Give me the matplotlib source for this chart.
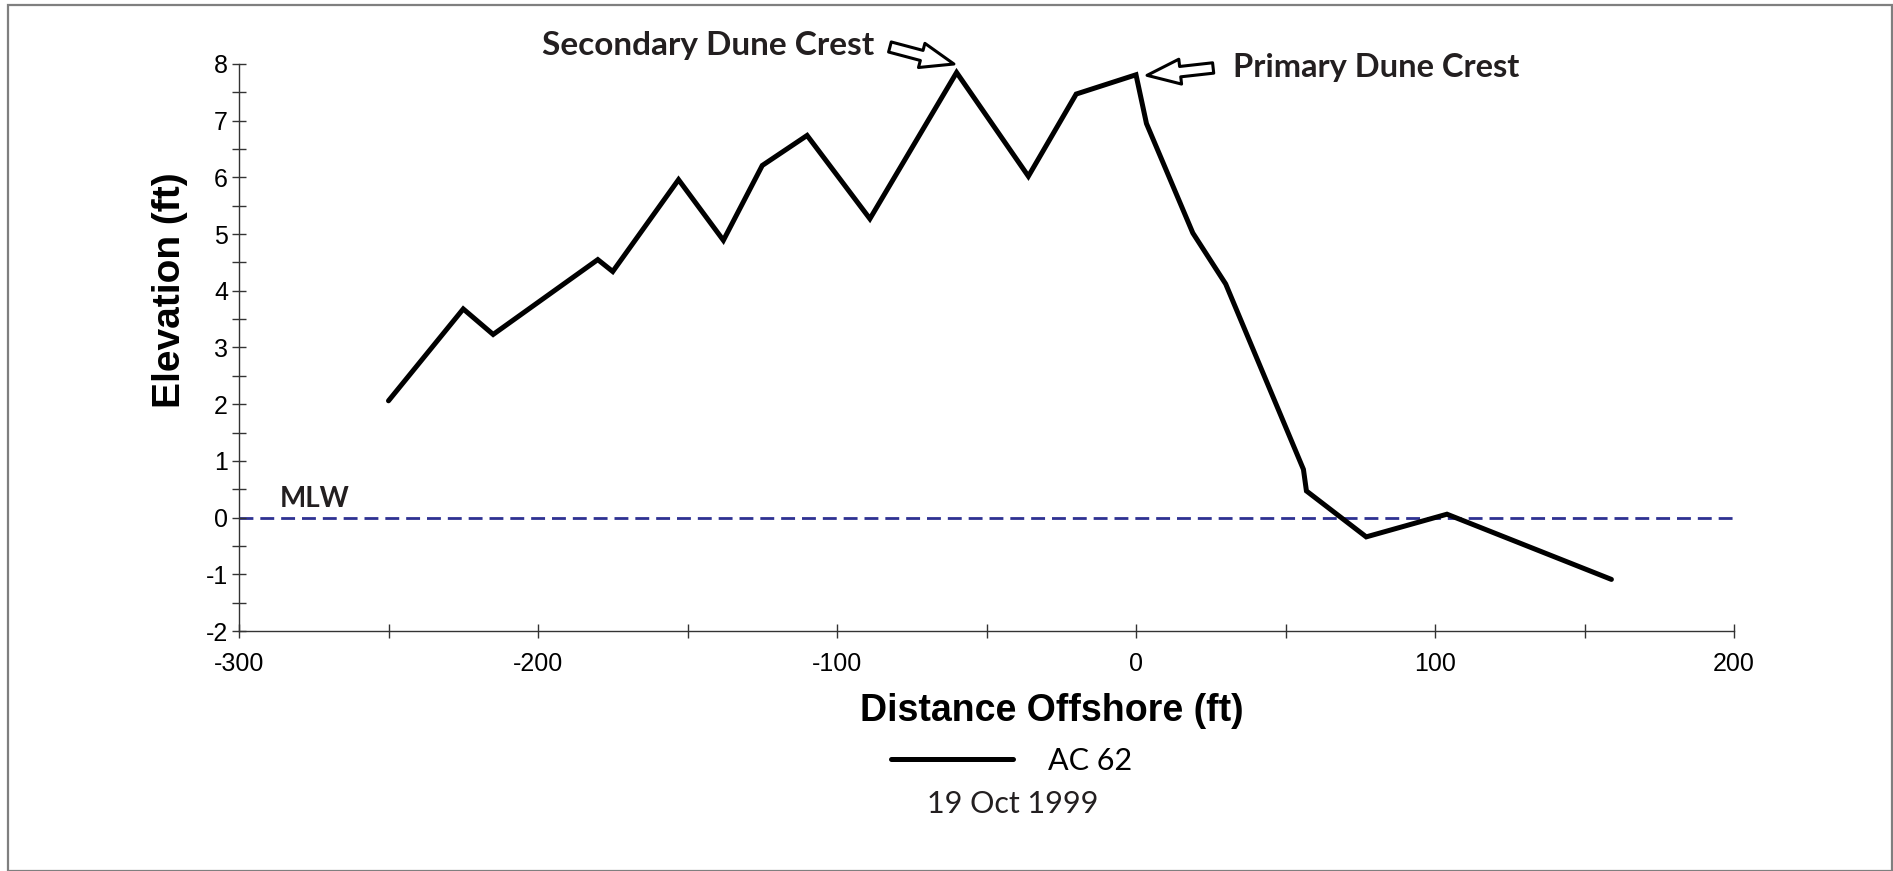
import matplotlib
matplotlib.use('Agg')
import matplotlib.pyplot as plt
from matplotlib.patches import Rectangle
from matplotlib.ticker import MultipleLocator

# beach profile AC 62 (distance offshore vs elevation, ft)
dist = [-250, -225, -215, -180, -175, -153, -138, -125, -110, -89, -60, -36,
        -20, 0, 3.5, 19, 30, 42, 56, 57, 77, 104, 159]
elev = [2.06, 3.68, 3.23, 4.55, 4.34, 5.96, 4.89, 6.21, 6.74, 5.27, 7.85, 6.02,
        7.47, 7.81, 6.95, 5.02, 4.12, 2.61, 0.85, 0.47, -0.34, 0.06, -1.09]
mlw = 0.0
profile_name = 'AC 62'
survey_date = '19 Oct 1999'

plt.rcParams['font.family'] = ['Liberation Sans', 'DejaVu Sans']
plt.rcParams['axes.unicode_minus'] = False

W, H = 1893, 871
fig = plt.figure(figsize=(W / 100, H / 100), dpi=100)
ax = fig.add_axes([239 / W, 1 - 631 / H, (1734 - 239) / W, (631 - 64) / H])

ax.axhline(mlw, color='#2E3192', lw=2, dashes=(5, 2.5), zorder=1)
line, = ax.plot(dist, elev, color='black', lw=3.6, solid_joinstyle='miter',
                solid_capstyle='round', zorder=2)

ax.set_xlim(-300, 200)
ax.set_ylim(-2, 8)
ax.xaxis.set_major_locator(MultipleLocator(100))
ax.xaxis.set_minor_locator(MultipleLocator(50))
ax.yaxis.set_major_locator(MultipleLocator(1))
ax.yaxis.set_minor_locator(MultipleLocator(0.5))
for s in ['top', 'right']:
    ax.spines[s].set_visible(False)
for s in ['left', 'bottom']:
    ax.spines[s].set_color('#333333')
    ax.spines[s].set_linewidth(1)
ax.tick_params(which='both', direction='inout', length=10, width=1, color='#333333')
ax.tick_params(axis='x', labelsize=18, pad=10)
ax.tick_params(axis='y', labelsize=18, pad=3)

fig.text(1052 / W, 1 - 711 / H, 'Distance Offshore (ft)', ha='center', va='center',
         fontsize=27, fontweight='bold')
fig.text(170 / W, 1 - 290 / H, 'Elevation (ft)', rotation=90, ha='center', va='center',
         fontsize=28, fontweight='bold')

# crest callouts
arrow = dict(arrowstyle='simple,head_length=2.4,head_width=1.8,tail_width=0.75',
             mutation_scale=10, fc='white', ec='black', lw=2.2, shrinkA=0, shrinkB=0)
ax.annotate('', xy=(-60.9, 8.0), xytext=(-82.3, 8.3), arrowprops=arrow,
            annotation_clip=False)
ax.annotate('', xy=(3.7, 7.8), xytext=(25.8, 7.93), arrowprops=arrow,
            annotation_clip=False)
fig.text(708 / W, 1 - 55 / H, 'Secondary Dune Crest', ha='center', va='baseline',
         family=['Lato', 'DejaVu Sans'], fontweight='bold', fontsize=24, color='#231f20')
fig.text(1233 / W, 1 - 77 / H, 'Primary Dune Crest', ha='left', va='baseline',
         family=['Lato', 'DejaVu Sans'], fontweight='bold', fontsize=23.5, color='#231f20')
fig.text(280 / W, 1 - 507 / H, 'MLW', ha='left', va='baseline',
         family=['Lato', 'DejaVu Sans'], fontweight='bold', fontsize=20, color='#231f20')

fig.legend(handles=[line], labels=[profile_name], loc='center left',
           bbox_to_anchor=(891 / W, 1 - 761 / H), frameon=False,
           prop=dict(family=['Lato', 'DejaVu Sans'], size=22),
           handlelength=4.0, handletextpad=1.15, borderpad=0, borderaxespad=0)
fig.text(927 / W, 1 - 813 / H, survey_date, ha='left', va='baseline',
         family=['Lato', 'DejaVu Sans'], fontsize=22, color='#231f20')

# outer frame
fig.patches.append(Rectangle((7.5 / W, 0.5 / H), (1892 - 7.5) / W, (866 - 0.5) / H,
                             transform=fig.transFigure, fill=False,
                             ec='#7f7f7f', lw=1.6))

fig.savefig('out.png', dpi=100)
